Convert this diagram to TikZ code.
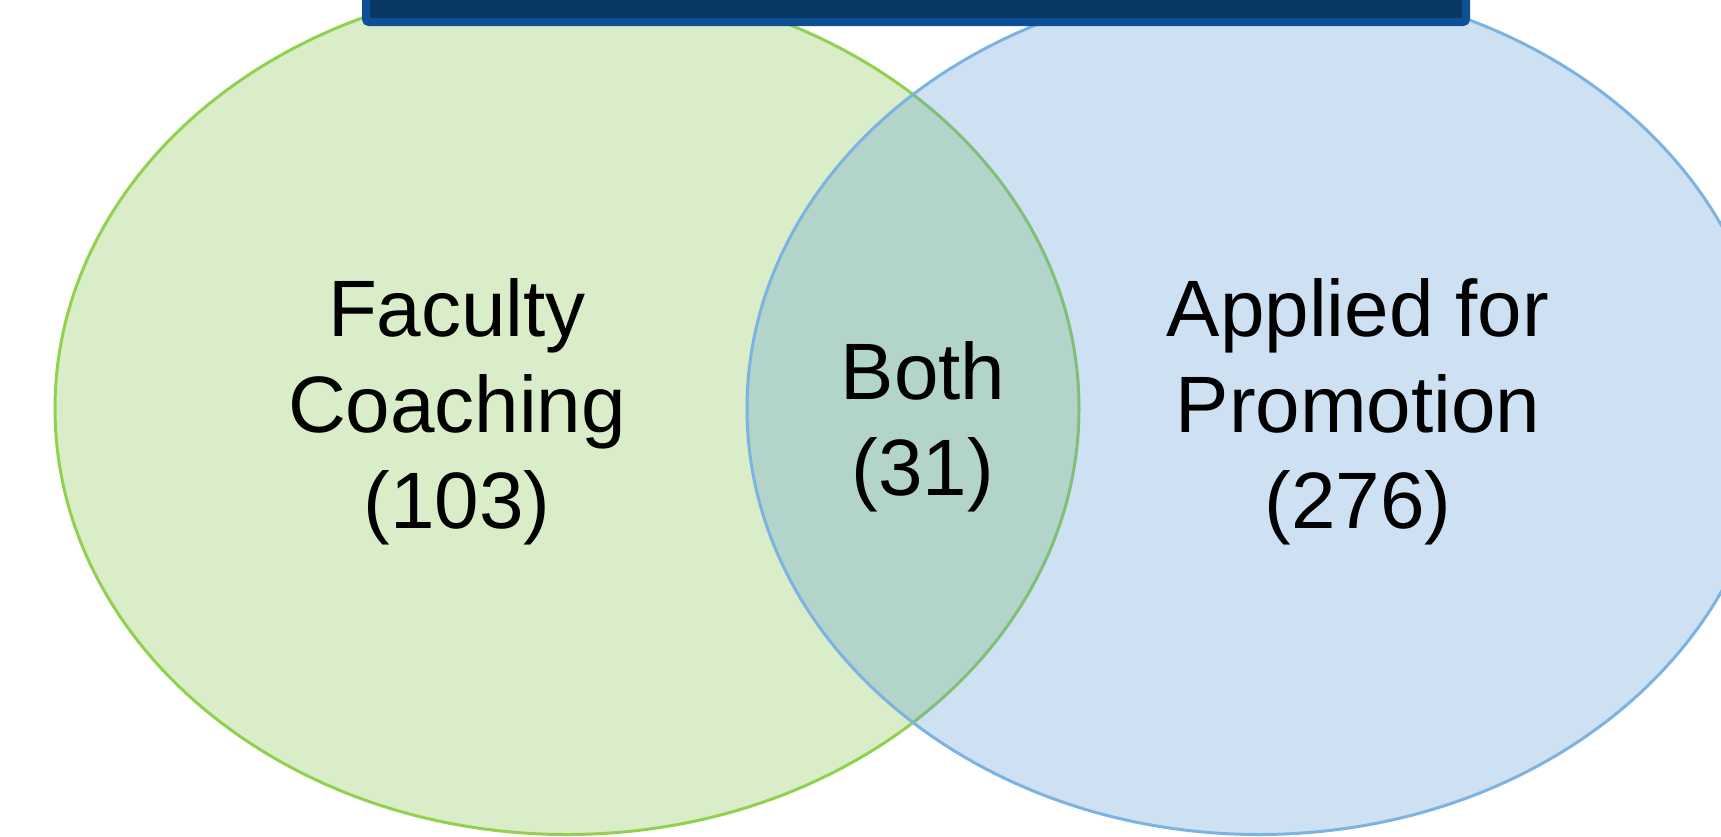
\documentclass[tikz,border=0pt]{standalone}
\usepackage{fontspec}
\setmainfont{Liberation Sans}
\definecolor{setgreenfill}{HTML}{D9EEC8}
\definecolor{setgreenline}{HTML}{92D050}
\definecolor{setblue}{HTML}{5B9BD5}
\definecolor{setblueline}{HTML}{7DB3E1}
\definecolor{barfill}{HTML}{0A3864}
\definecolor{barline}{HTML}{0E5096}
\begin{document}
\begin{tikzpicture}[x=1pt,y=-1pt,
  setlabel/.style={font=\fontsize{80}{96}\selectfont, align=center, inner sep=0pt, anchor=base, text=black}]
\useasboundingbox (0,0) rectangle (1721,836);
\clip (0,0) rectangle (1721,836);
% left set: faculty coaching
\draw[setgreenline, line width=3pt, fill=setgreenfill] (567,408.5) ellipse [x radius=512, y radius=426];
% right set: applied for promotion, translucent so the overlap shows through
\draw[setblueline, line width=3pt, fill=setblue, fill opacity=0.3] (1259,408.5) ellipse [x radius=512, y radius=426];
% title bar across the top
\draw[barline, fill=barfill, line width=8pt, rounded corners=3pt] (366,-30) rectangle (1466,22);
% labels (anchored at the baseline of the last line)
\node[setlabel] (coach) at (457,528) {Faculty\\Coaching\\(103)};
\node[setlabel] (both) at (923,495) {Both\\(31)};
\node[setlabel] (promo) at (1358,528) {Applied for\\Promotion\\(276)};
\end{tikzpicture}
\end{document}
